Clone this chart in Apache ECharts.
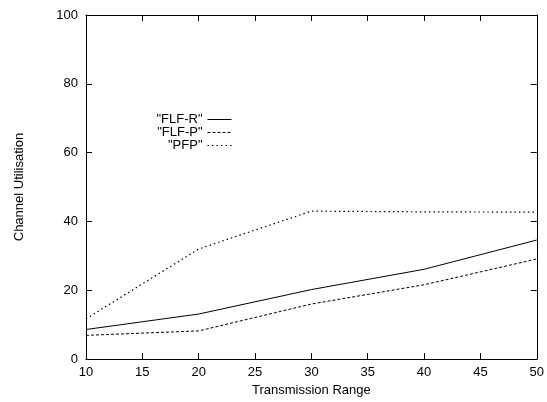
<!DOCTYPE html>
<html>
<head>
<meta charset="utf-8">
<script src="https://cdn.jsdelivr.net/npm/echarts@6/dist/echarts.min.js"></script>
<style>
html,body{margin:0;padding:0;background:#fff;}
#chart{width:547px;height:402px;}
</style>
</head>
<body>
<div id="chart"></div>
<script>
var xValues = [10, 20, 30, 40, 50];
var flfR = [8.6, 13.1, 20.2, 26.1, 34.6];
var flfP = [6.9, 8.2, 16.0, 21.6, 29.1];
var pfp = [11.7, 32.0, 43.0, 42.8, 42.7];
var seriesNames = ['"FLF-R"', '"FLF-P"', '"PFP"'];
var xTitle = 'Transmission Range';
var yTitle = 'Channel Utilisation';

function pairs(vals) {
  return xValues.map(function (x, i) { return [x, vals[i]]; });
}

var font = 'Liberation Sans, Arial, Helvetica, sans-serif';
var chart = echarts.init(document.getElementById('chart'), null, {renderer: 'canvas'});
var tickStyle = {show: true, inside: true, length: 6, lineStyle: {color: '#000', width: 1}};
var axisLineStyle = {show: true, onZero: false, lineStyle: {color: '#000', width: 1}};

chart.setOption({
  animation: false,
  backgroundColor: '#fff',
  grid: {left: 86, right: 7, top: 15, bottom: 39, containLabel: false},
  legend: {
    orient: 'vertical',
    align: 'right',
    right: 315,
    top: 113,
    padding: 0,
    itemWidth: 24,
    itemHeight: 8,
    itemGap: 0,
    itemStyle: {opacity: 0},
    lineStyle: {width: 1},
    textStyle: {fontFamily: font, fontSize: 13, color: '#000', lineHeight: 11},
    data: seriesNames
  },
  xAxis: [{
    type: 'value', min: 10, max: 50, interval: 5, position: 'bottom',
    axisLine: axisLineStyle, axisTick: tickStyle, splitLine: {show: false},
    axisLabel: {fontFamily: font, fontSize: 13, color: '#000', margin: 7},
    name: xTitle, nameLocation: 'middle', nameGap: 20,
    nameTextStyle: {fontFamily: font, fontSize: 13, color: '#000'}
  }, {
    type: 'value', min: 10, max: 50, interval: 5, position: 'top',
    axisLine: axisLineStyle, axisTick: tickStyle, splitLine: {show: false},
    axisLabel: {show: false}
  }],
  yAxis: [{
    type: 'value', min: 0, max: 100, interval: 20, position: 'left',
    axisLine: axisLineStyle, axisTick: tickStyle, splitLine: {show: false},
    axisLabel: {fontFamily: font, fontSize: 13, color: '#000', margin: 8},
    name: yTitle, nameLocation: 'middle', nameGap: 60,
    nameTextStyle: {fontFamily: font, fontSize: 13, color: '#000'}
  }, {
    type: 'value', min: 0, max: 100, interval: 20, position: 'right',
    axisLine: axisLineStyle, axisTick: tickStyle, splitLine: {show: false},
    axisLabel: {show: false}
  }],
  series: [{
    name: seriesNames[0], type: 'line', data: pairs(flfR), symbol: 'none',
    lineStyle: {color: '#000', width: 1, type: 'solid'}, itemStyle: {color: '#000'}
  }, {
    name: seriesNames[1], type: 'line', data: pairs(flfP), symbol: 'none',
    lineStyle: {color: '#000', width: 1, type: [3, 2]}, itemStyle: {color: '#000'}
  }, {
    name: seriesNames[2], type: 'line', data: pairs(pfp), symbol: 'none',
    lineStyle: {color: '#000', width: 1.2, type: [1.5, 3]}, itemStyle: {color: '#000'}
  }]
});
</script>
</body>
</html>
